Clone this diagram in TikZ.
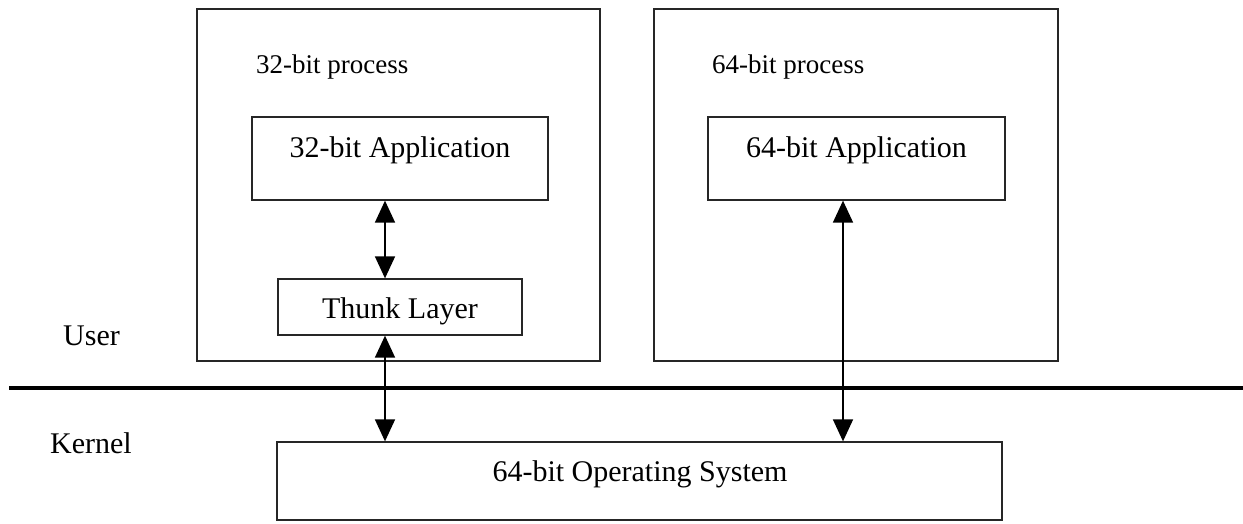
\documentclass[tikz,border=0pt]{standalone}
\usepackage{fontspec}
\setmainfont{Liberation Serif}
\usetikzlibrary{arrows.meta}
\tikzset{
  boxstyle/.style={draw=black!85, line width=1.3pt, rectangle, inner sep=0pt},
  bigtext/.style={font=\fontsize{30}{36}\selectfont, inner sep=0pt},
  smalltext/.style={font=\fontsize{27}{32}\selectfont, inner sep=0pt},
  link/.style={line width=1.6pt, {Triangle[width=20pt,length=22pt]}-{Triangle[width=20pt,length=22pt]}},
}
\begin{document}
\begin{tikzpicture}[x=1pt,y=-1pt]
\useasboundingbox (0,0) rectangle (1243,523);
% boxes
\node[boxstyle, minimum width=403pt, minimum height=352pt] (outerL) at (398.5,185) {};
\node[boxstyle, minimum width=404pt, minimum height=352pt] (outerR) at (856,185) {};
\node[boxstyle, minimum width=296pt, minimum height=83pt] (app32) at (400,158.5) {};
\node[boxstyle, minimum width=297pt, minimum height=83pt] (app64) at (856.5,158.5) {};
\node[boxstyle, minimum width=244pt, minimum height=56pt] (thunk) at (400,307) {};
\node[boxstyle, minimum width=725pt, minimum height=78pt] (os) at (639.5,481) {};
% texts
\node[smalltext, anchor=base west] (p32) at (256,73) {32-bit process};
\node[smalltext, anchor=base west] (p64) at (712,73) {64-bit process};
\node[bigtext, anchor=base] (t32) at (400,157) {32-bit Application};
\node[bigtext, anchor=base] (t64) at (856.5,157) {64-bit Application};
\node[bigtext, anchor=base] (tthunk) at (400,318) {Thunk Layer};
\node[bigtext, anchor=base] (tos) at (640,481) {64-bit Operating System};
\node[bigtext, anchor=base west] (user) at (63,345) {User};
\node[bigtext, anchor=base west] (kernel) at (50,453) {Kernel};
% user/kernel separator
\coordinate (sepL) at (9,388);
\coordinate (sepR) at (1243,388);
\draw[line width=4pt] (sepL) -- (sepR);
% connectors
\coordinate (la) at (385,0);
\coordinate (ra) at (843,0);
\draw[link] (la |- app32.south) -- (la |- thunk.north);
\draw[link] (la |- thunk.south) -- (la |- os.north);
\draw[link] (ra |- app64.south) -- (ra |- os.north);
\end{tikzpicture}
\end{document}
